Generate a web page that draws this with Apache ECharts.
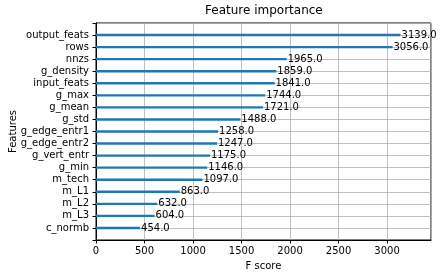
<!DOCTYPE html>
<html><head><meta charset="utf-8">
<script src="https://cdn.jsdelivr.net/npm/echarts@6/dist/echarts.min.js"></script>
<style>html,body{margin:0;padding:0;background:#fff}#c{width:442px;height:278px}</style>
</head><body><div id="c"></div>
<script>
var features = ['output_feats','rows','nnzs','g_density','input_feats','g_max','g_mean','g_std','g_edge_entr1','g_edge_entr2','g_vert_entr','g_min','m_tech','m_L1','m_L2','m_L3','c_normb'];
var scores = [3139,3056,1965,1859,1841,1744,1721,1488,1258,1247,1175,1146,1097,863,632,604,454];
var xTicks = [0,500,1000,1500,2000,2500,3000];

var cats = [''].concat(features).concat(['']);
var vals = ['-'].concat(scores).concat(['-']);
var maxX = Math.max.apply(null, scores) * 1.1;
var font = 'DejaVu Sans';
var chart = echarts.init(document.getElementById('c'), null, {renderer:'canvas'});
chart.setOption({
  animation:false,
  title:{text:'Feature importance', left:205, top:5, padding:0,
    textStyle:{fontFamily:font, fontSize:12, fontWeight:'normal', color:'#000'}},
  grid:{left:96, right:11, top:23, bottom:38, containLabel:false, outerBoundsMode:'none',
    show:true, borderColor:'#000', borderWidth:1, backgroundColor:'transparent'},
  xAxis:{type:'value', min:0, max:maxX, interval:500,
    name:'F score', nameLocation:'middle', nameGap:21, nameMoveOverlap:false,
    nameTextStyle:{fontFamily:font, fontSize:10, color:'#000'},
    axisLine:{show:true, lineStyle:{color:'#000', width:1}},
    axisTick:{show:true, length:3.5, lineStyle:{color:'#000'}},
    axisLabel:{margin:6, showMaxLabel:false, fontFamily:font, fontSize:10, color:'#000',
      formatter:function(v){return xTicks.indexOf(v)>=0 ? String(v) : '';}},
    splitLine:{show:true, lineStyle:{color:'#b0b0b0', width:0.8}}
  },
  yAxis:{type:'category', data:cats, inverse:true, boundaryGap:false,
    name:'Features', nameLocation:'middle', nameGap:78, nameMoveOverlap:false,
    nameTextStyle:{fontFamily:font, fontSize:10, color:'#000'},
    axisLine:{show:true, lineStyle:{color:'#000', width:1}},
    axisTick:{show:true, length:3.5, interval:0, lineStyle:{color:'#000'}},
    axisLabel:{interval:0, margin:7, fontFamily:font, fontSize:10, color:'#000'},
    splitLine:{show:true, interval:0, lineStyle:{color:'#b0b0b0', width:0.8}}
  },
  series:[{type:'bar', data:vals, barWidth:2.4, itemStyle:{color:'#1f77b4'},
    label:{show:true, position:'right', distance:1, fontFamily:font, fontSize:10, color:'#000',
      formatter:function(p){return p.value.toFixed(1);}}}]
});
</script></body></html>
